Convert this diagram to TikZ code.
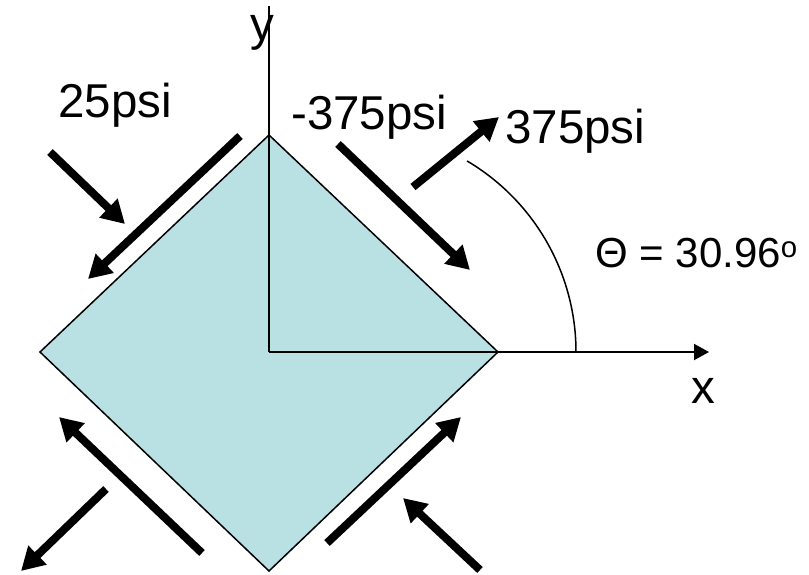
\documentclass[tikz,border=0pt]{standalone}
\usepackage{fontspec}
\setmainfont{Liberation Sans}
\usetikzlibrary{arrows.meta}
\definecolor{plate}{HTML}{B9E0E3}
\begin{document}
\begin{tikzpicture}[x=1pt,y=-1pt,
  force/.style={line width=8pt,-{Triangle[length=23pt,width=25pt]}},
  axisline/.style={line width=2pt},
  lbl/.style={inner sep=0pt,anchor=base west,font=\fontsize{47.5}{50}\selectfont},
  anglbl/.style={inner sep=0pt,anchor=base west,font=\fontsize{42}{44}\selectfont}]
\useasboundingbox (0,0) rectangle (809,574);
% element corners and axes
\coordinate (T) at (269,135);
\coordinate (R) at (498,352);
\coordinate (B) at (269,571);
\coordinate (L) at (40,352);
\coordinate (O) at (269,352);
\coordinate (Ytop) at (269,6);
\coordinate (Xend) at (709,352);
\fill[plate,draw=black,line width=1.5pt] (T) -- (R) -- (B) -- (L) -- cycle;
\draw[axisline] (Ytop) -- (O);
\draw[axisline,-{Triangle[length=15pt,width=16pt]}] (O) -- (Xend);
% angle arc
\coordinate (A0) at (576,352);
\draw[line width=1.5pt] (A0) arc[start angle=0,end angle=-59.4,radius=222];
% force arrows
\coordinate (n1s) at (50,152);  \coordinate (n1e) at (125,224);
\coordinate (s1s) at (240,136); \coordinate (s1e) at (88,279);
\coordinate (s2s) at (338,144); \coordinate (s2e) at (470,270);
\coordinate (n2s) at (413,187); \coordinate (n2e) at (499,117);
\coordinate (s3s) at (202,553); \coordinate (s3e) at (59,417);
\coordinate (n3s) at (106,489); \coordinate (n3e) at (21,571);
\coordinate (s4s) at (327,543); \coordinate (s4e) at (461,417);
\coordinate (n4s) at (480,570); \coordinate (n4e) at (403,498);
\draw[force] (n1s) -- (n1e);
\draw[force] (s1s) -- (s1e);
\draw[force] (s2s) -- (s2e);
\draw[force] (n2s) -- (n2e);
\draw[force] (s3s) -- (s3e);
\draw[force] (n3s) -- (n3e);
\draw[force] (s4s) -- (s4e);
\draw[force] (n4s) -- (n4e);
% labels
\node[lbl] (ylab) at (250,40) {y};
\node[lbl] (xlab) at (691,403) {x};
\node[lbl] (l25) at (58,117) {25psi};
\node[lbl] (lm375) at (291,129) {-375psi};
\node[lbl] (l375) at (505,143) {375psi};
\node[anglbl] (theta) at (595,267) {Θ = 30.96\textsuperscript{o}};
\end{tikzpicture}
\end{document}
